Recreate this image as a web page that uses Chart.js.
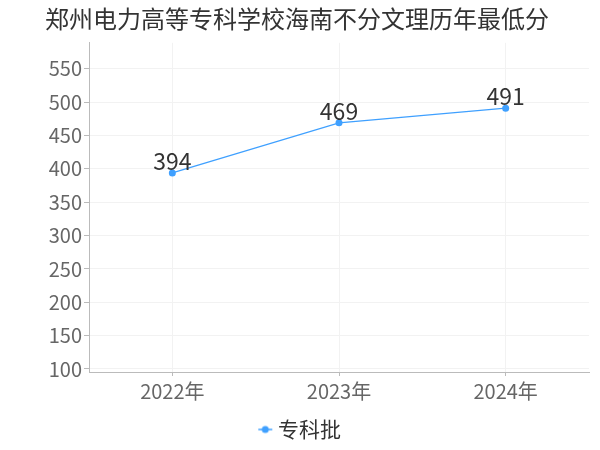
<!DOCTYPE html>
<html>
<head>
<meta charset="utf-8">
<script src="https://cdn.jsdelivr.net/npm/chart.js@4"></script>
<style>
  html, body { margin: 0; padding: 0; background: #fff; }
  #wrap { width: 600px; height: 450px; }
</style>
</head>
<body>
<div id="wrap"><canvas id="myChart" width="600" height="450"></canvas></div>
<script>
const titleText = '郑州电力高等专科学校海南不分文理历年最低分';
const years = ['2022年', '2023年', '2024年'];
const seriesName = '专科批';
const minScores = [394, 469, 491];
const yTicks = [100, 150, 200, 250, 300, 350, 400, 450, 500, 550];

const FONT = '"Noto Sans CJK SC", "DejaVu Sans", sans-serif';
const BLUE = '#3fa0ff';

// legend marker: short line with a dot, drawn right of the image centre
const marker = document.createElement('canvas');
marker.width = 26; marker.height = 10;
(function () {
    const c = marker.getContext('2d');
    c.strokeStyle = BLUE;
    c.lineWidth = 1.5;
    c.beginPath(); c.moveTo(11, 5); c.lineTo(25, 5); c.stroke();
    c.fillStyle = BLUE;
    c.beginPath(); c.arc(18, 5, 3.5, 0, Math.PI * 2); c.fill();
})();

// value labels above each point
const valueLabels = {
    id: 'valueLabels',
    afterDatasetsDraw(chart) {
        const ctx = chart.ctx;
        ctx.save();
        ctx.font = '23px ' + FONT;
        ctx.fillStyle = '#333';
        ctx.textAlign = 'center';
        ctx.textBaseline = 'alphabetic';
        chart.getDatasetMeta(0).data.forEach((pt, i) => {
            ctx.fillText(String(minScores[i]), pt.x, pt.y - 3);
        });
        ctx.restore();
    }
};

const ctx = document.getElementById('myChart').getContext('2d');
const myChart = new Chart(ctx, {
    type: 'line',
    data: {
        labels: years,
        datasets: [{
            label: seriesName,
            data: minScores,
            borderColor: BLUE,
            backgroundColor: BLUE,
            borderWidth: 1.2,
            pointRadius: 3.5,
            pointHoverRadius: 3.5,
            pointBackgroundColor: BLUE,
            pointBorderWidth: 0,
            pointStyle: 'circle',
            tension: 0
        }]
    },
    options: {
        responsive: false,
        animation: false,
        layout: { padding: { left: 5, right: 11, top: 0, bottom: 0 } },
        scales: {
            x: {
                offset: true,
                grid: { color: '#f2f2f2', offset: false, tickColor: '#bbb', tickLength: 4 },
                border: { color: '#bbb' },
                ticks: { font: { size: 20, family: FONT }, color: '#666', padding: 3 },
                afterFit(axis) { axis.height += 5; }
            },
            y: {
                min: 95.5,
                max: 589,
                afterBuildTicks(axis) {
                    axis.ticks = yTicks.map(v => ({ value: v }));
                },
                grid: { color: '#f2f2f2', tickColor: '#bbb', tickLength: 5 },
                border: { color: '#bbb' },
                ticks: { font: { size: 20, family: FONT }, color: '#666', padding: 2 },
                afterFit(axis) { axis.width = 84; }
            }
        },
        plugins: {
            title: {
                display: true,
                text: titleText,
                color: '#333',
                font: { size: 24, family: FONT, weight: 'normal' },
                padding: { top: 4, bottom: 10 }
            },
            legend: {
                position: 'bottom',
                labels: {
                    usePointStyle: true,
                    pointStyle: marker,
                    pointStyleWidth: 14.5,
                    color: '#333',
                    font: { size: 21, family: FONT },
                    padding: 8
                }
            },
            tooltip: { enabled: false }
        }
    },
    plugins: [valueLabels]
});
</script>
</body>
</html>
